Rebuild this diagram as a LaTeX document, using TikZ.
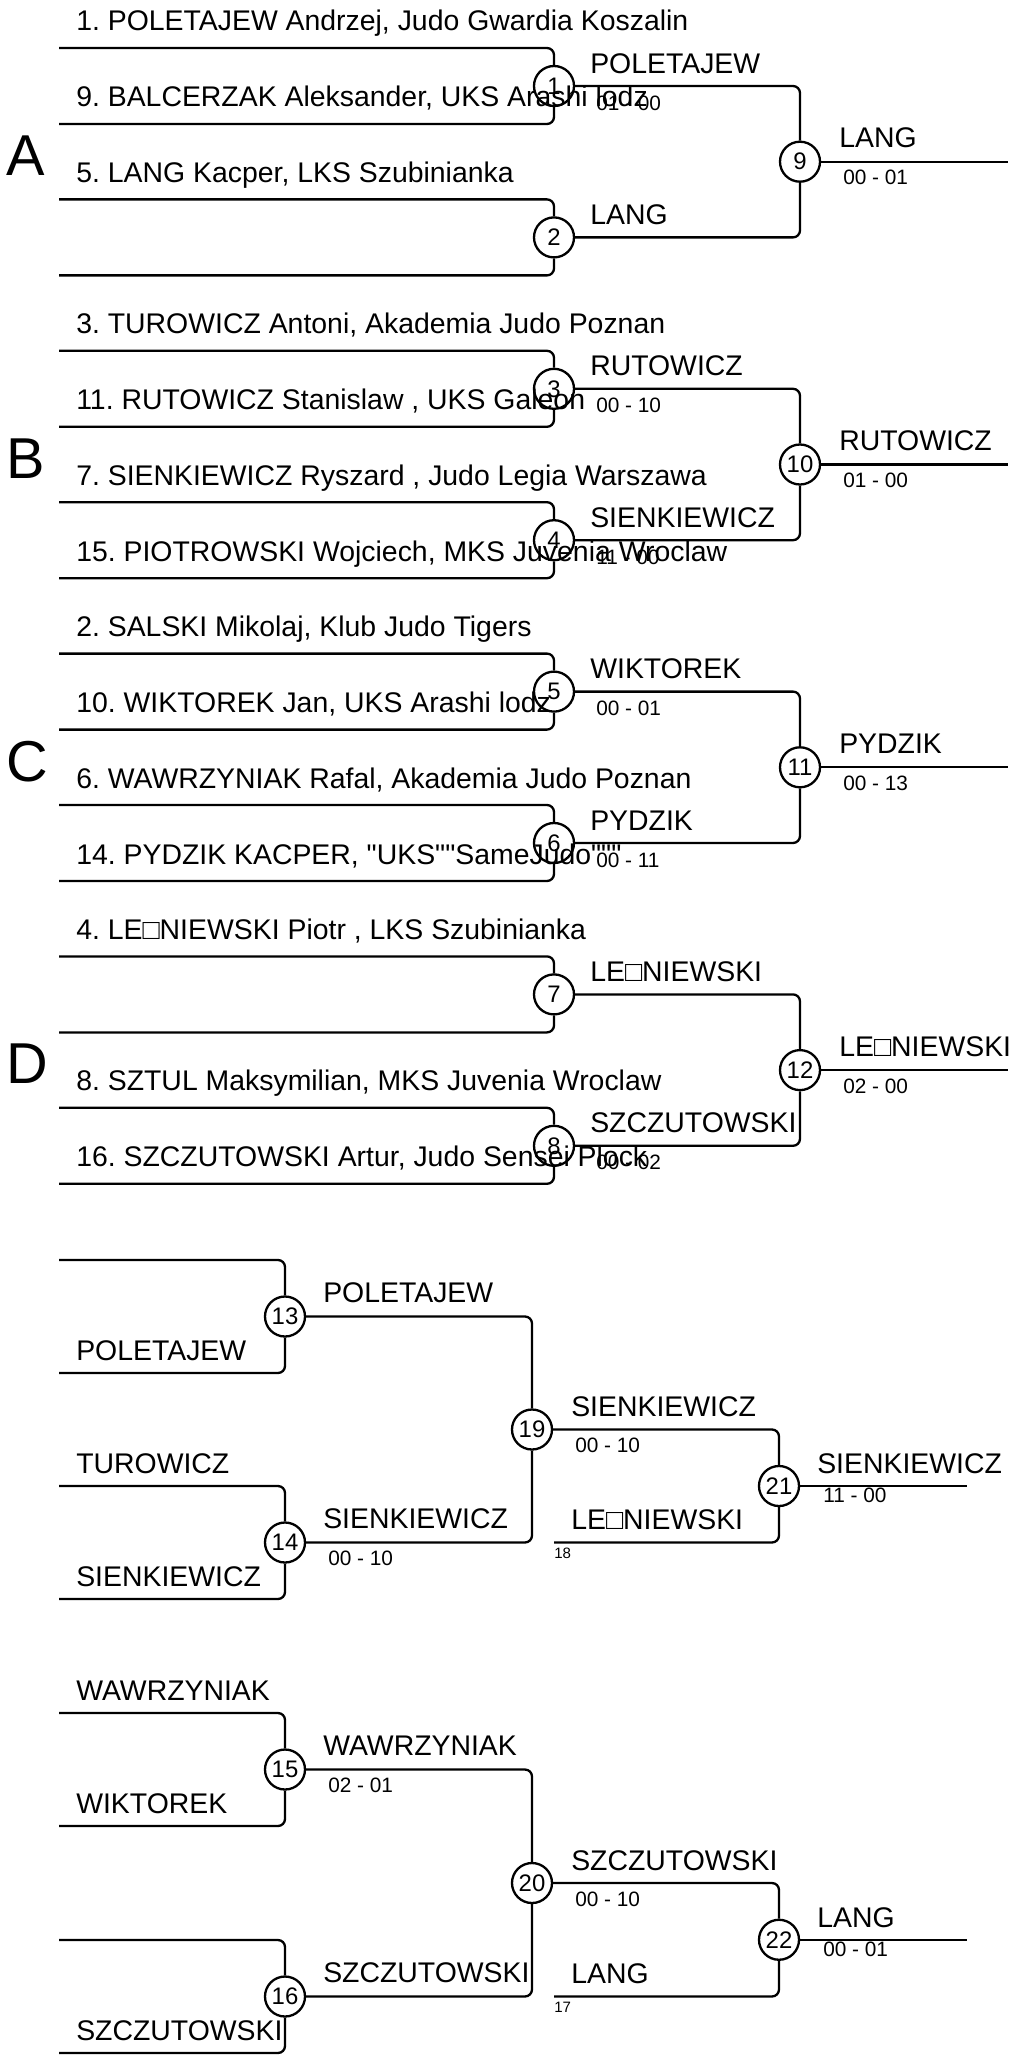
\documentclass[tikz,border=0pt]{standalone}
\usepackage{fontspec}
\setmainfont{Liberation Sans}[Ligatures=TeXOff]
\frenchspacing
\tikzset{
  fight/.style={draw,circle,line width=1.64pt,minimum size=1cm,inner sep=0pt,font=\fontsize{17}{17}\selectfont},
  bracket/.style={line width=1.64pt,rounded corners=5pt},
  player/.style={anchor=base west,inner sep=0pt,font=\fontsize{20.2}{24}\selectfont},
  score/.style={anchor=base west,inner sep=0pt,font=\fontsize{14.8}{16}\selectfont},
  smalltag/.style={anchor=base west,inner sep=0pt,font=\fontsize{10.7}{12}\selectfont},
  pool/.style={anchor=base west,inner sep=0pt,font=\fontsize{41}{41}\selectfont}
}
\begin{document}
\begin{tikzpicture}[x=0.025cm,y=-0.025cm]
	\useasboundingbox (0,0) rectangle (1008,2057);
	\coordinate (rim) at (1008,0);
	\coordinate (rimb) at (967,0);
	\node[pool] (poolA) at (6,175) {A};
	\node[pool] (poolB) at (6,478) {B};
	\node[pool] (poolC) at (6,781) {C};
	\node[pool] (poolD) at (6,1083) {D};
	\node[fight] (m1) at (554,86) {1};
	\node[fight] (m2) at (554,237.4) {2};
	\node[fight] (m3) at (554,388.8) {3};
	\node[fight] (m4) at (554,540.2) {4};
	\node[fight] (m5) at (554,691.6) {5};
	\node[fight] (m6) at (554,843) {6};
	\node[fight] (m7) at (554,994.4) {7};
	\node[fight] (m8) at (554,1145.8) {8};
	\node[fight] (m9) at (800,161.7) {9};
	\node[fight] (m10) at (800,464.5) {10};
	\node[fight] (m11) at (800,767.3) {11};
	\node[fight] (m12) at (800,1070.1) {12};
	\coordinate (p1a) at (59,48);     \coordinate (p1b) at (59,124);
	\coordinate (p2a) at (59,199.4);  \coordinate (p2b) at (59,275.4);
	\coordinate (p3a) at (59,350.8);  \coordinate (p3b) at (59,426.8);
	\coordinate (p4a) at (59,502.2);  \coordinate (p4b) at (59,578.2);
	\coordinate (p5a) at (59,653.6);  \coordinate (p5b) at (59,729.6);
	\coordinate (p6a) at (59,805);    \coordinate (p6b) at (59,881);
	\coordinate (p7a) at (59,956.4);  \coordinate (p7b) at (59,1032.4);
	\coordinate (p8a) at (59,1107.8); \coordinate (p8b) at (59,1183.8);
	\draw[bracket] (p1a) -| (m1); \draw[bracket] (p1b) -| (m1);
	\draw[bracket] (p2a) -| (m2); \draw[bracket] (p2b) -| (m2);
	\draw[bracket] (p3a) -| (m3); \draw[bracket] (p3b) -| (m3);
	\draw[bracket] (p4a) -| (m4); \draw[bracket] (p4b) -| (m4);
	\draw[bracket] (p5a) -| (m5); \draw[bracket] (p5b) -| (m5);
	\draw[bracket] (p6a) -| (m6); \draw[bracket] (p6b) -| (m6);
	\draw[bracket] (p7a) -| (m7); \draw[bracket] (p7b) -| (m7);
	\draw[bracket] (p8a) -| (m8); \draw[bracket] (p8b) -| (m8);
	\draw[bracket] (m1) -| (m9); \draw[bracket] (m2) -| (m9);
	\draw[bracket] (m3) -| (m10); \draw[bracket] (m4) -| (m10);
	\draw[bracket] (m5) -| (m11); \draw[bracket] (m6) -| (m11);
	\draw[bracket] (m7) -| (m12); \draw[bracket] (m8) -| (m12);
	\draw[bracket] (m9) -- (m9 -| rim);
	\draw[bracket] (m10) -- (m10 -| rim);
	\draw[bracket] (m11) -- (m11 -| rim);
	\draw[bracket] (m12) -- (m12 -| rim);
	\node[player] (n1a) at (76,31) {1. POLETAJEW Andrzej, Judo Gwardia Koszalin};
	\node[player] (n1b) at (76,107) {9. BALCERZAK Aleksander, UKS Arashi lodz};
	\node[player] (n2a) at (76,182.4) {5. LANG Kacper, LKS Szubinianka};
	\node[player] (n3a) at (76,333.8) {3. TUROWICZ Antoni, Akademia Judo Poznan};
	\node[player] (n3b) at (76,409.8) {11. RUTOWICZ Stanislaw , UKS Galeon};
	\node[player] (n4a) at (76,485.2) {7. SIENKIEWICZ Ryszard , Judo Legia Warszawa};
	\node[player] (n4b) at (76,561.2) {15. PIOTROWSKI Wojciech, MKS Juvenia Wroclaw};
	\node[player] (n5a) at (76,636.6) {2. SALSKI Mikolaj, Klub Judo Tigers};
	\node[player] (n5b) at (76,712.6) {10. WIKTOREK Jan, UKS Arashi lodz};
	\node[player] (n6a) at (76,788) {6. WAWRZYNIAK Rafal, Akademia Judo Poznan};
	\node[player] (n6b) at (76,864) {14. PYDZIK KACPER, "UKS""SameJudo"""};
	\node[player] (n7a) at (76,939.4) {4. LE□NIEWSKI Piotr , LKS Szubinianka};
	\node[player] (n8a) at (76,1090.8) {8. SZTUL Maksymilian, MKS Juvenia Wroclaw};
	\node[player] (n8b) at (76,1166.8) {16. SZCZUTOWSKI Artur, Judo Sensei Plock};
	\node[player] (w1) at (590,73) {POLETAJEW};
	\node[player] (w2) at (590,224.4) {LANG};
	\node[player] (w3) at (590,375.8) {RUTOWICZ};
	\node[player] (w4) at (590,527.2) {SIENKIEWICZ};
	\node[player] (w5) at (590,678.6) {WIKTOREK};
	\node[player] (w6) at (590,830) {PYDZIK};
	\node[player] (w7) at (590,981.4) {LE□NIEWSKI};
	\node[player] (w8) at (590,1132.8) {SZCZUTOWSKI};
	\node[score] (s1) at (596,110) {01 - 00};
	\node[score] (s3) at (596,412.8) {00 - 10};
	\node[score] (s4) at (596,564.2) {11 - 00};
	\node[score] (s5) at (596,715.6) {00 - 01};
	\node[score] (s6) at (596,867) {00 - 11};
	\node[score] (s8) at (596,1169.8) {00 - 02};
	\node[player] (w9) at (839,147.7) {LANG};
	\node[player] (w10) at (839,450.5) {RUTOWICZ};
	\node[player] (w11) at (839,753.3) {PYDZIK};
	\node[player] (w12) at (839,1056.1) {LE□NIEWSKI};
	\node[score] (s9) at (843,184.7) {00 - 01};
	\node[score] (s10) at (843,487.5) {01 - 00};
	\node[score] (s11) at (843,790.3) {00 - 13};
	\node[score] (s12) at (843,1093.1) {02 - 00};
	\node[fight] (m13) at (285,1316.5) {13};
	\node[fight] (m14) at (285,1542.5) {14};
	\node[fight] (m15) at (285,1769.5) {15};
	\node[fight] (m16) at (285,1996.5) {16};
	\node[fight] (m19) at (532,1429.5) {19};
	\node[fight] (m20) at (532,1883) {20};
	\node[fight] (m21) at (779,1486) {21};
	\node[fight] (m22) at (779,1939.75) {22};
	\coordinate (p13a) at (59,1260); \coordinate (p13b) at (59,1373);
	\coordinate (p14a) at (59,1486); \coordinate (p14b) at (59,1599);
	\coordinate (p15a) at (59,1713); \coordinate (p15b) at (59,1826);
	\coordinate (p16a) at (59,1940); \coordinate (p16b) at (59,2053);
	\coordinate (q18) at (554,1542.5);
	\coordinate (q17) at (554,1996.5);
	\draw[bracket] (p13a) -| (m13); \draw[bracket] (p13b) -| (m13);
	\draw[bracket] (p14a) -| (m14); \draw[bracket] (p14b) -| (m14);
	\draw[bracket] (p15a) -| (m15); \draw[bracket] (p15b) -| (m15);
	\draw[bracket] (p16a) -| (m16); \draw[bracket] (p16b) -| (m16);
	\draw[bracket] (m13) -| (m19); \draw[bracket] (m14) -| (m19);
	\draw[bracket] (m15) -| (m20); \draw[bracket] (m16) -| (m20);
	\draw[bracket] (m19) -| (m21); \draw[bracket] (q18) -| (m21);
	\draw[bracket] (m20) -| (m22); \draw[bracket] (q17) -| (m22);
	\draw[bracket] (m21) -- (m21 -| rimb);
	\draw[bracket] (m22) -- (m22 -| rimb);
	\node[player] (n13b) at (76,1360) {POLETAJEW};
	\node[player] (n14a) at (76,1473) {TUROWICZ};
	\node[player] (n14b) at (76,1586) {SIENKIEWICZ};
	\node[player] (n15a) at (76,1700) {WAWRZYNIAK};
	\node[player] (n15b) at (76,1813) {WIKTOREK};
	\node[player] (n16b) at (76,2040) {SZCZUTOWSKI};
	\node[player] (w13) at (323,1302.5) {POLETAJEW};
	\node[player] (w14) at (323,1528.5) {SIENKIEWICZ};
	\node[player] (w15) at (323,1755.5) {WAWRZYNIAK};
	\node[player] (w16) at (323,1982.5) {SZCZUTOWSKI};
	\node[score] (s14) at (328,1565.5) {00 - 10};
	\node[score] (s15) at (328,1792.5) {02 - 01};
	\node[player] (w19) at (571,1416.5) {SIENKIEWICZ};
	\node[player] (w20) at (571,1870) {SZCZUTOWSKI};
	\node[score] (s19) at (575,1452.5) {00 - 10};
	\node[score] (s20) at (575,1906) {00 - 10};
	\node[player] (n18) at (571,1529.5) {LE□NIEWSKI};
	\node[player] (n17) at (571,1983.5) {LANG};
	\node[smalltag] (t18) at (554,1558) {18};
	\node[smalltag] (t17) at (554,2012) {17};
	\node[player] (w21) at (817,1473) {SIENKIEWICZ};
	\node[player] (w22) at (817,1927) {LANG};
	\node[score] (s21) at (823,1502) {11 - 00};
	\node[score] (s22) at (823,1956) {00 - 01};
\end{tikzpicture}
\end{document}
